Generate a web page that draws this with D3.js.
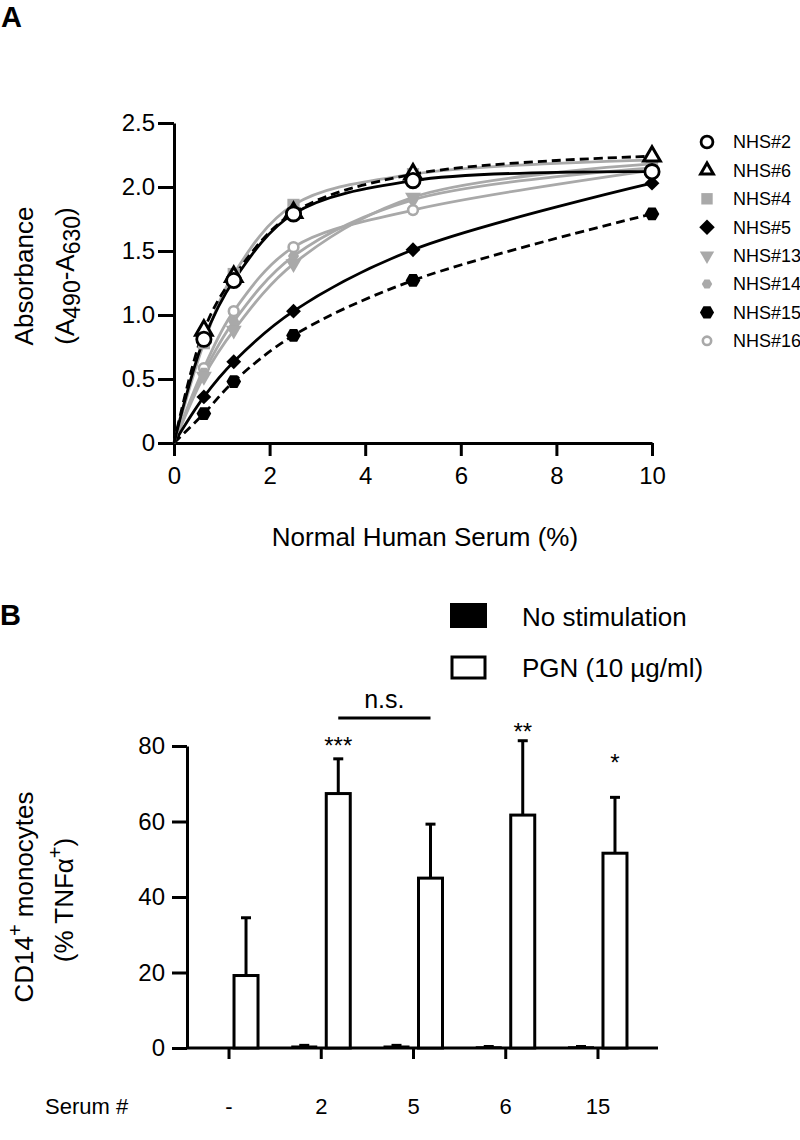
<!DOCTYPE html>
<html>
<head>
<meta charset="utf-8">
<script src="https://cdn.jsdelivr.net/npm/d3@7"></script>
<style>
  html, body { margin: 0; padding: 0; background: #fff; }
  svg { display: block; font-family: "Liberation Sans", Arial, sans-serif; }
</style>
</head>
<body>
<svg id="chart" width="800" height="1140"></svg>
<script>
// ---------- Panel A data ----------
const serumPercent = [0.625, 1.25, 2.5, 5, 10];
const seriesNames = ["NHS#2", "NHS#6", "NHS#4", "NHS#5", "NHS#13", "NHS#14", "NHS#15", "NHS#16"];
const nhs2  = [0.81, 1.27, 1.79, 2.05, 2.12];
const nhs6  = [0.88, 1.30, 1.80, 2.10, 2.24];
const nhs4  = [0.78, 1.32, 1.86, 2.10, 2.21];
const nhs5  = [0.36, 0.635, 1.03, 1.51, 2.03];
const nhs13 = [0.52, 0.88, 1.40, 1.92, 2.18];
const nhs14 = [0.55, 0.95, 1.46, 1.90, 2.15];
const nhs15 = [0.23, 0.48, 0.84, 1.27, 1.79];
const nhs16 = [0.585, 1.03, 1.53, 1.82, 2.13];
const yTicksA = [0, 0.5, 1.0, 1.5, 2.0, 2.5];
const xTicksA = [0, 2, 4, 6, 8, 10];

// ---------- Panel B data ----------
const serumLabels = ["-", "2", "5", "6", "15"];
const noStimMean = [0, 0.4, 0.4, 0.2, 0.2];
const noStimErr  = [0, 0.3, 0.3, 0.2, 0.2];
const pgnMean = [19.2, 67.4, 45.0, 61.7, 51.6];
const pgnErr  = [15.3, 9.2, 14.3, 19.7, 14.8];
const sigMarks = ["", "***", "", "**", "*"];
const sigLevel = [0, 81.6, 0, 85.3, 77.0];
const nsPair = ["2", "5"];
const nsLevel = 87.4;
const yTicksB = [0, 20, 40, 60, 80];

// ---------- styles (kept separate from data) ----------
const GRAY = "#a9a9a9";
const styleA = {
  "NHS#2":  { line: "#000", dash: null,  sym: "circle",   size: 160, leg: 110, fill: "#fff", stroke: "#000", sw: 2.8 },
  "NHS#6":  { line: "#000", dash: "9,5", sym: "triangle", size: 120, leg: 70,  fill: "#fff", stroke: "#000", sw: 3 },
  "NHS#4":  { line: GRAY,   dash: null,  sym: "square",   size: 150, leg: 130, fill: GRAY,   stroke: "none", sw: 0 },
  "NHS#5":  { line: "#000", dash: null,  sym: "diamond",  size: 110, leg: 120, fill: "#000", stroke: "none", sw: 0 },
  "NHS#13": { line: GRAY,   dash: null,  sym: "tridown",  size: 110, leg: 90,  fill: GRAY,   stroke: "none", sw: 0 },
  "NHS#14": { line: GRAY,   dash: null,  sym: "hexagon",  size: 80,  leg: 70,  fill: GRAY,   stroke: "none", sw: 0 },
  "NHS#15": { line: "#000", dash: "9,5", sym: "hexagon",  size: 140, leg: 130, fill: "#000", stroke: "none", sw: 0 },
  "NHS#16": { line: GRAY,   dash: null,  sym: "circle",   size: 75,  leg: 55,  fill: "#fff", stroke: GRAY,   sw: 2.6 }
};
const valuesA = { "NHS#2": nhs2, "NHS#6": nhs6, "NHS#4": nhs4, "NHS#5": nhs5,
                  "NHS#13": nhs13, "NHS#14": nhs14, "NHS#15": nhs15, "NHS#16": nhs16 };

const svg = d3.select("#chart");

// custom symbol types
const hexagon = { draw(ctx, size) {
  const r = Math.sqrt(size / (1.5 * Math.sqrt(3)));
  for (let i = 0; i < 6; i++) {
    const a = Math.PI / 3 * i;
    const x = r * Math.cos(a), y = r * Math.sin(a);
    if (i === 0) ctx.moveTo(x, y); else ctx.lineTo(x, y);
  }
  ctx.closePath();
}};
const triDown = { draw(ctx, size) {
  const s = Math.sqrt(size * 4 / Math.sqrt(3));
  const h = s * Math.sqrt(3) / 2;
  ctx.moveTo(0, h * 2 / 3);
  ctx.lineTo(-s / 2, -h / 3);
  ctx.lineTo(s / 2, -h / 3);
  ctx.closePath();
}};
const triUp = { draw(ctx, size) {
  const s = Math.sqrt(size * 4 / Math.sqrt(3));
  const h = s * Math.sqrt(3) / 2;
  ctx.moveTo(0, -h * 2 / 3);
  ctx.lineTo(-s / 2, h / 3);
  ctx.lineTo(s / 2, h / 3);
  ctx.closePath();
}};
const diamond = { draw(ctx, size) {
  const r = Math.sqrt(size / 2);
  ctx.moveTo(0, -r); ctx.lineTo(r, 0); ctx.lineTo(0, r); ctx.lineTo(-r, 0); ctx.closePath();
}};
const symType = { circle: d3.symbolCircle, triangle: triUp, square: d3.symbolSquare,
                  diamond: diamond, tridown: triDown, hexagon: hexagon };

// ================= PANEL A =================
const xA = d3.scaleLinear().domain([0, 10]).range([174, 652]);
const yA = d3.scaleLinear().domain([0, 2.5]).range([443, 123]);

svg.append("text").attr("x", 1).attr("y", 27).attr("font-size", 29).attr("font-weight", "bold").text("A");

const gA = svg.append("g");

const axA_y = gA.append("g").attr("transform", `translate(${xA(0)},0)`)
  .call(d3.axisLeft(yA).tickValues(yTicksA).tickSize(16).tickSizeOuter(0).tickPadding(3)
        .tickFormat(d => d === 0 ? "0" : d.toFixed(1)));
const axA_x = gA.append("g").attr("transform", `translate(0,${yA(0)})`)
  .call(d3.axisBottom(xA).tickValues(xTicksA).tickSize(13).tickSizeOuter(0).tickPadding(11));
[axA_y, axA_x].forEach(ax => {
  ax.select(".domain").attr("stroke-width", 3).attr("stroke", "#000");
  ax.selectAll(".tick line").attr("stroke-width", 3).attr("stroke", "#000");
  ax.selectAll(".tick text").attr("font-size", 24).attr("fill", "#000")
    .attr("font-family", "Liberation Sans, Arial, sans-serif");
});

// axis titles A
gA.append("text").attr("transform", "translate(33,276) rotate(-90)")
  .attr("text-anchor", "middle").attr("font-size", 26).text("Absorbance");
const t2 = gA.append("text").attr("transform", "translate(74,276) rotate(-90)")
  .attr("text-anchor", "middle").attr("font-size", 26);
t2.append("tspan").text("(A");
t2.append("tspan").attr("font-size", 23).attr("dy", 6).text("490");
t2.append("tspan").attr("dy", -6).text("-A");
t2.append("tspan").attr("font-size", 23).attr("dy", 6).text("630");
t2.append("tspan").attr("dy", -6).text(")");
gA.append("text").attr("x", 425).attr("y", 546).attr("text-anchor", "middle")
  .attr("font-size", 26).text("Normal Human Serum (%)");

// lines & markers
const lineGen = d3.line().x(d => xA(d[0])).y(d => yA(d[1])).curve(d3.curveCatmullRom.alpha(0.5));
const drawOrder = seriesNames.slice().reverse();
drawOrder.forEach(name => {
  const st = styleA[name];
  const pts = [[0, 0]].concat(serumPercent.map((x, i) => [x, valuesA[name][i]]));
  gA.append("path").datum(pts).attr("d", lineGen)
    .attr("fill", "none").attr("stroke", st.line).attr("stroke-width", 2.8)
    .attr("stroke-dasharray", st.dash);
});
drawOrder.forEach(name => {
  const st = styleA[name];
  gA.append("g").selectAll("path")
    .data(serumPercent.map((x, i) => [x, valuesA[name][i]]))
    .join("path")
    .attr("transform", d => `translate(${xA(d[0])},${yA(d[1])})`)
    .attr("d", d3.symbol().type(symType[st.sym]).size(st.size)())
    .attr("fill", st.fill).attr("stroke", st.stroke).attr("stroke-width", st.sw);
});

// legend A
const legA = gA.append("g");
seriesNames.forEach((name, i) => {
  const st = styleA[name];
  const y = 142 + i * 28.4;
  legA.append("path").attr("transform", `translate(707,${y})`)
    .attr("d", d3.symbol().type(symType[st.sym]).size(st.leg)())
    .attr("fill", st.fill).attr("stroke", st.stroke).attr("stroke-width", st.sw);
  legA.append("text").attr("x", 733).attr("y", y).attr("dy", "0.36em")
    .attr("font-size", 18).text(name);
});

// ================= PANEL B =================
const xB = d3.scaleBand().domain(serumLabels).range([182.9, 644.1]);
const xSub = d3.scaleBand().domain(["none", "pgn"]).range([-29, 29]).paddingInner(0.294);
const yB = d3.scaleLinear().domain([0, 80]).range([1048, 746]);
const cx = (lab) => xB(lab) + xB.bandwidth() / 2;

svg.append("text").attr("x", 0).attr("y", 625).attr("font-size", 29).attr("font-weight", "bold").text("B");

const gB = svg.append("g");

// axes
const axB_y = gB.append("g").attr("transform", `translate(187,0)`)
  .call(d3.axisLeft(yB).tickValues(yTicksB).tickSize(15).tickSizeOuter(0).tickPadding(7));
const axB_x = gB.append("g").attr("transform", `translate(0,${yB(0)})`)
  .call(d3.axisBottom(xB).tickSize(11).tickSizeOuter(0).tickFormat(""));
axB_x.select(".domain").remove();
gB.append("line").attr("x1", 187).attr("x2", 658).attr("y1", yB(0)).attr("y2", yB(0))
  .attr("stroke", "#000").attr("stroke-width", 3);
[axB_y, axB_x].forEach(ax => {
  ax.select(".domain").attr("stroke-width", 3).attr("stroke", "#000");
  ax.selectAll(".tick line").attr("stroke-width", 3).attr("stroke", "#000");
  ax.selectAll(".tick text").attr("font-size", 24).attr("fill", "#000")
    .attr("font-family", "Liberation Sans, Arial, sans-serif");
});

// category labels
gB.selectAll("text.cat").data(serumLabels).join("text").attr("class", "cat")
  .attr("x", d => cx(d)).attr("y", 1114).attr("text-anchor", "middle")
  .attr("font-size", 22).text(d => d);
gB.append("text").attr("x", 45).attr("y", 1114).attr("font-size", 22).text("Serum #");

// y title B
const tb1 = gB.append("text").attr("transform", "translate(33,897) rotate(-90)")
  .attr("text-anchor", "middle").attr("font-size", 26);
tb1.append("tspan").text("CD14");
tb1.append("tspan").attr("font-size", 20).attr("dy", -11).text("+");
tb1.append("tspan").attr("dy", 11).text(" monocytes");
const tb2 = gB.append("text").attr("transform", "translate(73,900) rotate(-90)")
  .attr("text-anchor", "middle").attr("font-size", 26);
tb2.append("tspan").text("(% TNFα");
tb2.append("tspan").attr("font-size", 20).attr("dy", -11).text("+");
tb2.append("tspan").attr("dy", 11).text(")");

// bars
const barData = serumLabels.map((lab, i) => ({
  lab, none: noStimMean[i], noneErr: noStimErr[i], pgn: pgnMean[i], pgnErr: pgnErr[i]
}));
const bw = xSub.bandwidth();
// no stimulation (black)
gB.selectAll("rect.none").data(barData.filter(d => d.none > 0)).join("rect").attr("class", "none")
  .attr("x", d => cx(d.lab) + xSub("none")).attr("width", bw)
  .attr("y", d => yB(d.none)).attr("height", d => yB(0) - yB(d.none))
  .attr("fill", "#000").attr("stroke", "#000").attr("stroke-width", 2);
gB.selectAll("line.noneErr").data(barData.filter(d => d.none > 0)).join("line").attr("class", "noneErr")
  .attr("x1", d => cx(d.lab) + xSub("none") + bw / 2 - 5).attr("x2", d => cx(d.lab) + xSub("none") + bw / 2 + 5)
  .attr("y1", d => yB(d.none + d.noneErr)).attr("y2", d => yB(d.none + d.noneErr))
  .attr("stroke", "#000").attr("stroke-width", 3);
// PGN (white)
gB.selectAll("line.pgnErr").data(barData).join("line").attr("class", "pgnErr")
  .attr("x1", d => cx(d.lab) + xSub("pgn") + bw / 2).attr("x2", d => cx(d.lab) + xSub("pgn") + bw / 2)
  .attr("y1", d => yB(d.pgn)).attr("y2", d => yB(d.pgn + d.pgnErr))
  .attr("stroke", "#000").attr("stroke-width", 3);
gB.selectAll("line.pgnCap").data(barData).join("line").attr("class", "pgnCap")
  .attr("x1", d => cx(d.lab) + xSub("pgn") + bw / 2 - 5).attr("x2", d => cx(d.lab) + xSub("pgn") + bw / 2 + 5)
  .attr("y1", d => yB(d.pgn + d.pgnErr)).attr("y2", d => yB(d.pgn + d.pgnErr))
  .attr("stroke", "#000").attr("stroke-width", 3);
gB.selectAll("rect.pgn").data(barData).join("rect").attr("class", "pgn")
  .attr("x", d => cx(d.lab) + xSub("pgn")).attr("width", bw)
  .attr("y", d => yB(d.pgn)).attr("height", d => yB(0) - yB(d.pgn))
  .attr("fill", "#fff").attr("stroke", "#000").attr("stroke-width", 3);

// significance
serumLabels.forEach((lab, i) => {
  if (!sigMarks[i]) return;
  gB.append("text").attr("x", cx(lab) + xSub("pgn") + bw / 2).attr("y", yB(sigLevel[i]) + 14)
    .attr("text-anchor", "middle").attr("font-size", 24).text(sigMarks[i]);
});
const nsX1 = cx(nsPair[0]) + xSub("pgn") + bw / 2;
const nsX2 = cx(nsPair[1]) + xSub("pgn") + bw / 2;
gB.append("line").attr("x1", nsX1).attr("x2", nsX2).attr("y1", yB(nsLevel)).attr("y2", yB(nsLevel))
  .attr("stroke", "#000").attr("stroke-width", 3);
gB.append("text").attr("x", (nsX1 + nsX2) / 2).attr("y", yB(nsLevel) - 10)
  .attr("text-anchor", "middle").attr("font-size", 25).text("n.s.");

// legend B
gB.append("rect").attr("x", 451).attr("y", 604).attr("width", 35).attr("height", 23)
  .attr("fill", "#000").attr("stroke", "#000").attr("stroke-width", 2);
gB.append("text").attr("x", 522).attr("y", 626).attr("font-size", 26).text("No stimulation");
gB.append("rect").attr("x", 452).attr("y", 657).attr("width", 33).attr("height", 21)
  .attr("fill", "#fff").attr("stroke", "#000").attr("stroke-width", 3);
gB.append("text").attr("x", 522).attr("y", 677).attr("font-size", 26).text("PGN (10 µg/ml)");
</script>
</body>
</html>
